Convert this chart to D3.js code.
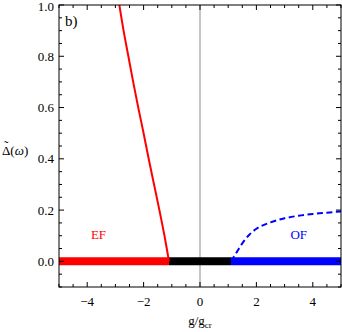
<!DOCTYPE html>
<html>
<head>
<meta charset="utf-8">
<script src="https://cdn.jsdelivr.net/npm/d3@7/dist/d3.min.js"></script>
<style>
  html, body { margin: 0; padding: 0; background: #fff; }
  svg { display: block; }
</style>
</head>
<body>
<div id="chart"></div>
<script>
// Gap curves.
// EF branch (red): x where the gap reaches each value
const efGap = [0, 0.1, 0.2, 0.3, 0.4, 0.5, 0.6, 0.7, 0.8, 0.9, 1.0];
const efG   = [-1.1, -1.26, -1.44, -1.63, -1.82, -2.0, -2.19, -2.37, -2.54, -2.71, -2.86];
// OF branch (blue, dashed)
const ofG   = [1.1, 1.3, 1.5, 1.75, 2.0, 2.5, 3.0, 3.5, 4.0, 4.5, 5.0];
const ofGap = [0, 0.035, 0.07, 0.104, 0.127, 0.152, 0.168, 0.178, 0.185, 0.19, 0.195];
// thick bands on the zero line
const bands = [
  { from: -5, to: -1.1, color: '#ff0000' },
  { from: -1.1, to: 1.1, color: '#000000' },
  { from: 1.1, to: 5, color: '#0000ff' },
];
const xTicks = [-4, -2, 0, 2, 4];
const yTicks = [0, 0.2, 0.4, 0.6, 0.8, 1.0];

const W = 342, H = 332;
const FONT = "'Liberation Serif', 'Times New Roman', 'DejaVu Serif', serif";
const x = d3.scaleLinear().domain([-5, 5]).range([59, 341]);
const y = d3.scaleLinear().domain([-0.1, 1.0]).range([287, 5]);

const svg = d3.select('#chart').append('svg')
  .attr('width', W).attr('height', H)
  .attr('font-family', FONT);

svg.append('clipPath').attr('id', 'clip')
  .append('rect').attr('x', 59).attr('y', 5).attr('width', 282).attr('height', 282);

const plot = svg.append('g').attr('clip-path', 'url(#clip)');

// x = 0 line
plot.append('line')
  .attr('x1', x(0)).attr('x2', x(0)).attr('y1', y(1)).attr('y2', y(-0.1))
  .attr('stroke', '#8c8c8c').attr('stroke-width', 1);

// bands
plot.selectAll('line.band').data(bands).enter().append('line')
  .attr('class', 'band')
  .attr('x1', (d) => x(d.from)).attr('x2', (d) => x(d.to))
  .attr('y1', y(0)).attr('y2', y(0))
  .attr('stroke', (d) => d.color).attr('stroke-width', 8);

const line = d3.line().x((d) => x(d[0])).y((d) => y(d[1])).curve(d3.curveMonotoneX);
const lineY = d3.line().x((d) => x(d[0])).y((d) => y(d[1])).curve(d3.curveMonotoneY);

plot.append('path')
  .attr('d', lineY(efG.map((g, i) => [g, efGap[i]])))
  .attr('fill', 'none').attr('stroke', '#ff0000').attr('stroke-width', 2);

plot.append('path')
  .attr('d', line(ofG.map((g, i) => [g, ofGap[i]])))
  .attr('fill', 'none').attr('stroke', '#0000ff').attr('stroke-width', 2)
  .attr('stroke-dasharray', '6,3.5');

// frame
svg.append('rect')
  .attr('x', 59).attr('y', 5).attr('width', 282).attr('height', 282)
  .attr('fill', 'none').attr('stroke', '#000').attr('stroke-width', 1);

// ticks, Mathematica style (inward on all sides)
const xMinor = d3.range(-5, 5.001, 0.5);
const yMinor = d3.range(-0.1, 1.0001, 0.05);
const tk = svg.append('g').attr('stroke', '#000').attr('stroke-width', 1);
xMinor.forEach((v) => {
  const major = xTicks.some((t) => Math.abs(t - v) < 1e-6);
  const len = major ? 5 : 3;
  tk.append('line').attr('x1', x(v)).attr('x2', x(v)).attr('y1', 287).attr('y2', 287 - len);
  tk.append('line').attr('x1', x(v)).attr('x2', x(v)).attr('y1', 5).attr('y2', 5 + len);
});
yMinor.forEach((v) => {
  const major = yTicks.some((t) => Math.abs(t - v) < 1e-6);
  const len = major ? 5 : 3;
  tk.append('line').attr('x1', 59).attr('x2', 59 + len).attr('y1', y(v)).attr('y2', y(v));
  tk.append('line').attr('x1', 341).attr('x2', 341 - len).attr('y1', y(v)).attr('y2', y(v));
});

// tick labels
svg.selectAll('text.xt').data(xTicks).enter().append('text')
  .attr('class', 'xt')
  .attr('x', (d) => x(d)).attr('y', 306)
  .attr('text-anchor', 'middle').attr('font-size', 13)
  .text((d) => (d < 0 ? '\u2212' + Math.abs(d) : d));

svg.selectAll('text.yt').data(yTicks).enter().append('text')
  .attr('class', 'yt')
  .attr('x', 54).attr('y', (d) => Math.max(y(d) + 4.5, 11))
  .attr('text-anchor', 'end').attr('font-size', 13)
  .text((d) => d.toFixed(1));

// axis titles
const xt = svg.append('text').attr('x', 200).attr('y', 325)
  .attr('text-anchor', 'middle').attr('font-size', 13);
xt.append('tspan').text('g/g');
xt.append('tspan').attr('font-size', 9).attr('dy', 3).text('cr');

const yt = svg.append('text').attr('x', 2).attr('y', 155).attr('font-size', 13);
yt.append('tspan').text('\u0394(');
yt.append('tspan').attr('font-style', 'italic').text('\u03c9');
yt.append('tspan').text(')');
// tilde above the Delta
svg.append('text').attr('x', 6.2).attr('y', 149.5).attr('text-anchor', 'middle')
  .attr('font-size', 13).text('\u02dc');

// panel label and region labels
svg.append('text').attr('x', 65).attr('y', 26).attr('font-size', 15).text('b)');
svg.append('text').attr('x', x(-3.6)).attr('y', 239).attr('text-anchor', 'middle')
  .attr('font-size', 13).attr('fill', '#ff0000').text('EF');
svg.append('text').attr('x', x(3.5)).attr('y', 239).attr('text-anchor', 'middle')
  .attr('font-size', 13).attr('fill', '#0000ff').text('OF');
</script>
</body>
</html>
